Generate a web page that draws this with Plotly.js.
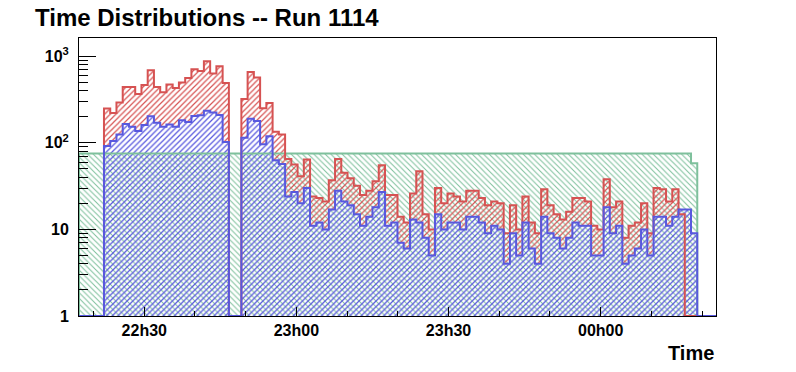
<!DOCTYPE html>
<html><head><meta charset="utf-8">
<script src="https://cdn.plot.ly/plotly-3.0.1.min.js"></script>
<style>html,body{margin:0;padding:0;background:#fff;}#chart{width:796px;height:372px;}</style>
</head><body><div id="chart"></div>
<script>
// Time axis in minutes after 22h00
const histStartMin = 17.13;
const binWidthMin = 1.2315;
const nBins = 102;

const greenCounts = [
 75,75,75,75,75,75,75,75,75,75,
 75,75,75,75,75,75,75,75,75,75,
 75,75,75,75,75,75,75,75,75,75,
 75,75,75,75,75,75,75,75,75,75,
 75,75,75,75,75,75,75,75,75,75,
 75,75,75,75,75,75,75,75,75,75,
 75,75,75,75,75,75,75,75,75,75,
 75,75,75,75,75,75,75,75,75,75,
 75,75,75,75,75,75,75,75,75,75,
 75,75,75,75,75,75,75,75,58,0,
 0,0];

const redCounts = [
 0,0,0,0,249,221,292,440,440,366,
 465,690,440,383,470,430,498,560,705,675,
 873,632,765,490,0,0,321,655,567,251,
 289,134,125,65,56,41,64,24,23,21,
 37,65,45,39,32,25,28,36,55,25,
 25,14,12,26,47,15,10,30,20,26,
 24,21,28,28,23,19,21,20,9,19,
 10,24,12,9,29,19,15,13,16,23,
 23,21,11,10,38,18,21,8,11,12,
 20,9,30,29,21,29,15,0,0,0,
 0,0];

const blueCounts = [
 0,0,0,0,92,105,125,165,153,137,
 160,203,170,153,163,153,182,174,204,208,
 234,224,210,102,0,0,114,189,179,96,
 119,63,57,24,27,20,30,11,12,10,
 17,28,21,19,15,11,14,18,27,11,
 12,7,6,13,12,8,5,15,10,12,
 12,10,14,14,12,9,11,10,4,9,
 5,12,6,4,14,9,8,6,8,12,
 11,11,5,5,18,9,11,4,5,6,
 10,5,14,14,11,14,17,17,9,0,
 0,0];

const tickMinutes = [30, 60, 90, 120];
const tickLabels = ['22h30', '23h00', '23h30', '00h00'];
const minorTickMinutes = [20, 40, 50, 70, 80, 100, 110, 130, 140];
const yTickVals = [1, 10, 100, 1000];
const yTickText = ['1', '10', '10<sup>2</sup>', '10<sup>3</sup>'];

const GREEN = 'rgb(126,192,156)';
const RED = 'rgb(214,82,82)';
const BLUE = 'rgb(88,88,222)';

function edge(k) { return histStartMin + k * binWidthMin; }
const centers = [];
for (let k = 0; k < nBins; k++) centers.push(edge(k) + binWidthMin / 2);

const yMinorVals = [];
[1, 10, 100].forEach(d => { for (let m = 2; m <= 9; m++) yMinorVals.push(m * d); });

function hatch(color, shape, solidity) {
  return { color: 'rgba(0,0,0,0)', line: { width: 0 },
    pattern: { shape: shape, fgcolor: color, bgcolor: 'rgba(0,0,0,0)', fgopacity: 1, size: 4, solidity: solidity, fillmode: 'replace' } };
}

const greenBar = {
  type: 'bar', x: centers, y: greenCounts.map(v => (v > 0 ? v : null)), width: binWidthMin,
  marker: hatch(GREEN, '\\', 0.26), hoverinfo: 'skip'
};
// red fill shares the blue hatch, so it is only visible above the blue histogram
const redBar = {
  type: 'bar', x: centers,
  base: redCounts.map((v, k) => (v > 0 && blueCounts[k] > 0 ? Math.min(v, blueCounts[k]) : null)),
  y: redCounts.map((v, k) => {
    if (!(v > 0)) return null;
    if (blueCounts[k] > 0) return Math.max(v - Math.min(v, blueCounts[k]), 0);
    return v;
  }),
  width: binWidthMin, marker: hatch(RED, '/', 0.3), hoverinfo: 'skip'
};
const blueBar = {
  type: 'bar', x: centers, y: blueCounts.map(v => (v > 0 ? v : null)), width: binWidthMin,
  marker: hatch(BLUE, '/', 0.32), hoverinfo: 'skip'
};

function stepTrace(counts, color) {
  const floor = 1;
  const xs = [edge(0)], ys = [floor];
  for (let k = 0; k < nBins; k++) { xs.push(edge(k)); ys.push(counts[k] > 0 ? counts[k] : floor); }
  const last = counts[nBins - 1] > 0 ? counts[nBins - 1] : floor;
  xs.push(edge(nBins)); ys.push(last);
  xs.push(edge(nBins)); ys.push(floor);
  return { type: 'scatter', mode: 'lines', x: xs, y: ys, line: { color: color, width: 2, shape: 'hv' }, hoverinfo: 'skip', cliponaxis: false };
}

const data = [
  greenBar, redBar, blueBar,
  stepTrace(greenCounts, GREEN),
  stepTrace(redCounts, RED),
  stepTrace(blueCounts, BLUE)
];

const layout = {
  width: 796, height: 372,
  margin: { l: 79, r: 80, t: 38, b: 56, pad: 0 },
  paper_bgcolor: '#ffffff', plot_bgcolor: '#ffffff',
  showlegend: false, barmode: 'overlay', bargap: 0,
  font: { family: 'Liberation Sans, Arial, sans-serif', color: '#000', size: 16, weight: 'bold' },
  title: { text: 'Time Distributions -- Run 1114', xref: 'container', x: 35 / 796, xanchor: 'left',
    yref: 'container', y: 1 - 18 / 372, yanchor: 'middle',
    font: { size: 24, weight: 'bold', color: '#000' } },
  xaxis: {
    range: [edge(0), edge(nBins)], tickmode: 'array', tickvals: tickMinutes, ticktext: tickLabels,
    ticks: 'inside', ticklen: 9, tickwidth: 1, tickcolor: '#000',
    showgrid: false, zeroline: false, showline: true, mirror: true, linecolor: '#000', linewidth: 1,
    tickfont: { size: 16, weight: 'bold' },
    minor: { tickmode: 'array', tickvals: minorTickMinutes, ticks: 'inside', ticklen: 5, tickcolor: '#000', showgrid: false }
  },
  yaxis: {
    type: 'log', range: [0, 3.21], tickmode: 'array', tickvals: yTickVals, ticktext: yTickText,
    ticks: 'inside', ticklen: 17, tickwidth: 1, tickcolor: '#000',
    showgrid: false, zeroline: false, showline: true, mirror: true, linecolor: '#000', linewidth: 1,
    tickfont: { size: 16, weight: 'bold' }, ticklabelstandoff: 6,
    minor: { tickmode: 'array', tickvals: yMinorVals, ticks: 'inside', ticklen: 9, tickcolor: '#000', showgrid: false }
  },
  annotations: [{
    text: 'Time', xref: 'paper', x: 1, xanchor: 'right', yref: 'paper', y: -0.133, yanchor: 'middle',
    showarrow: false, font: { size: 20, weight: 'bold', color: '#000' }
  }]
};

Plotly.newPlot('chart', data, layout, { displayModeBar: false, staticPlot: true });
</script>
</body></html>
